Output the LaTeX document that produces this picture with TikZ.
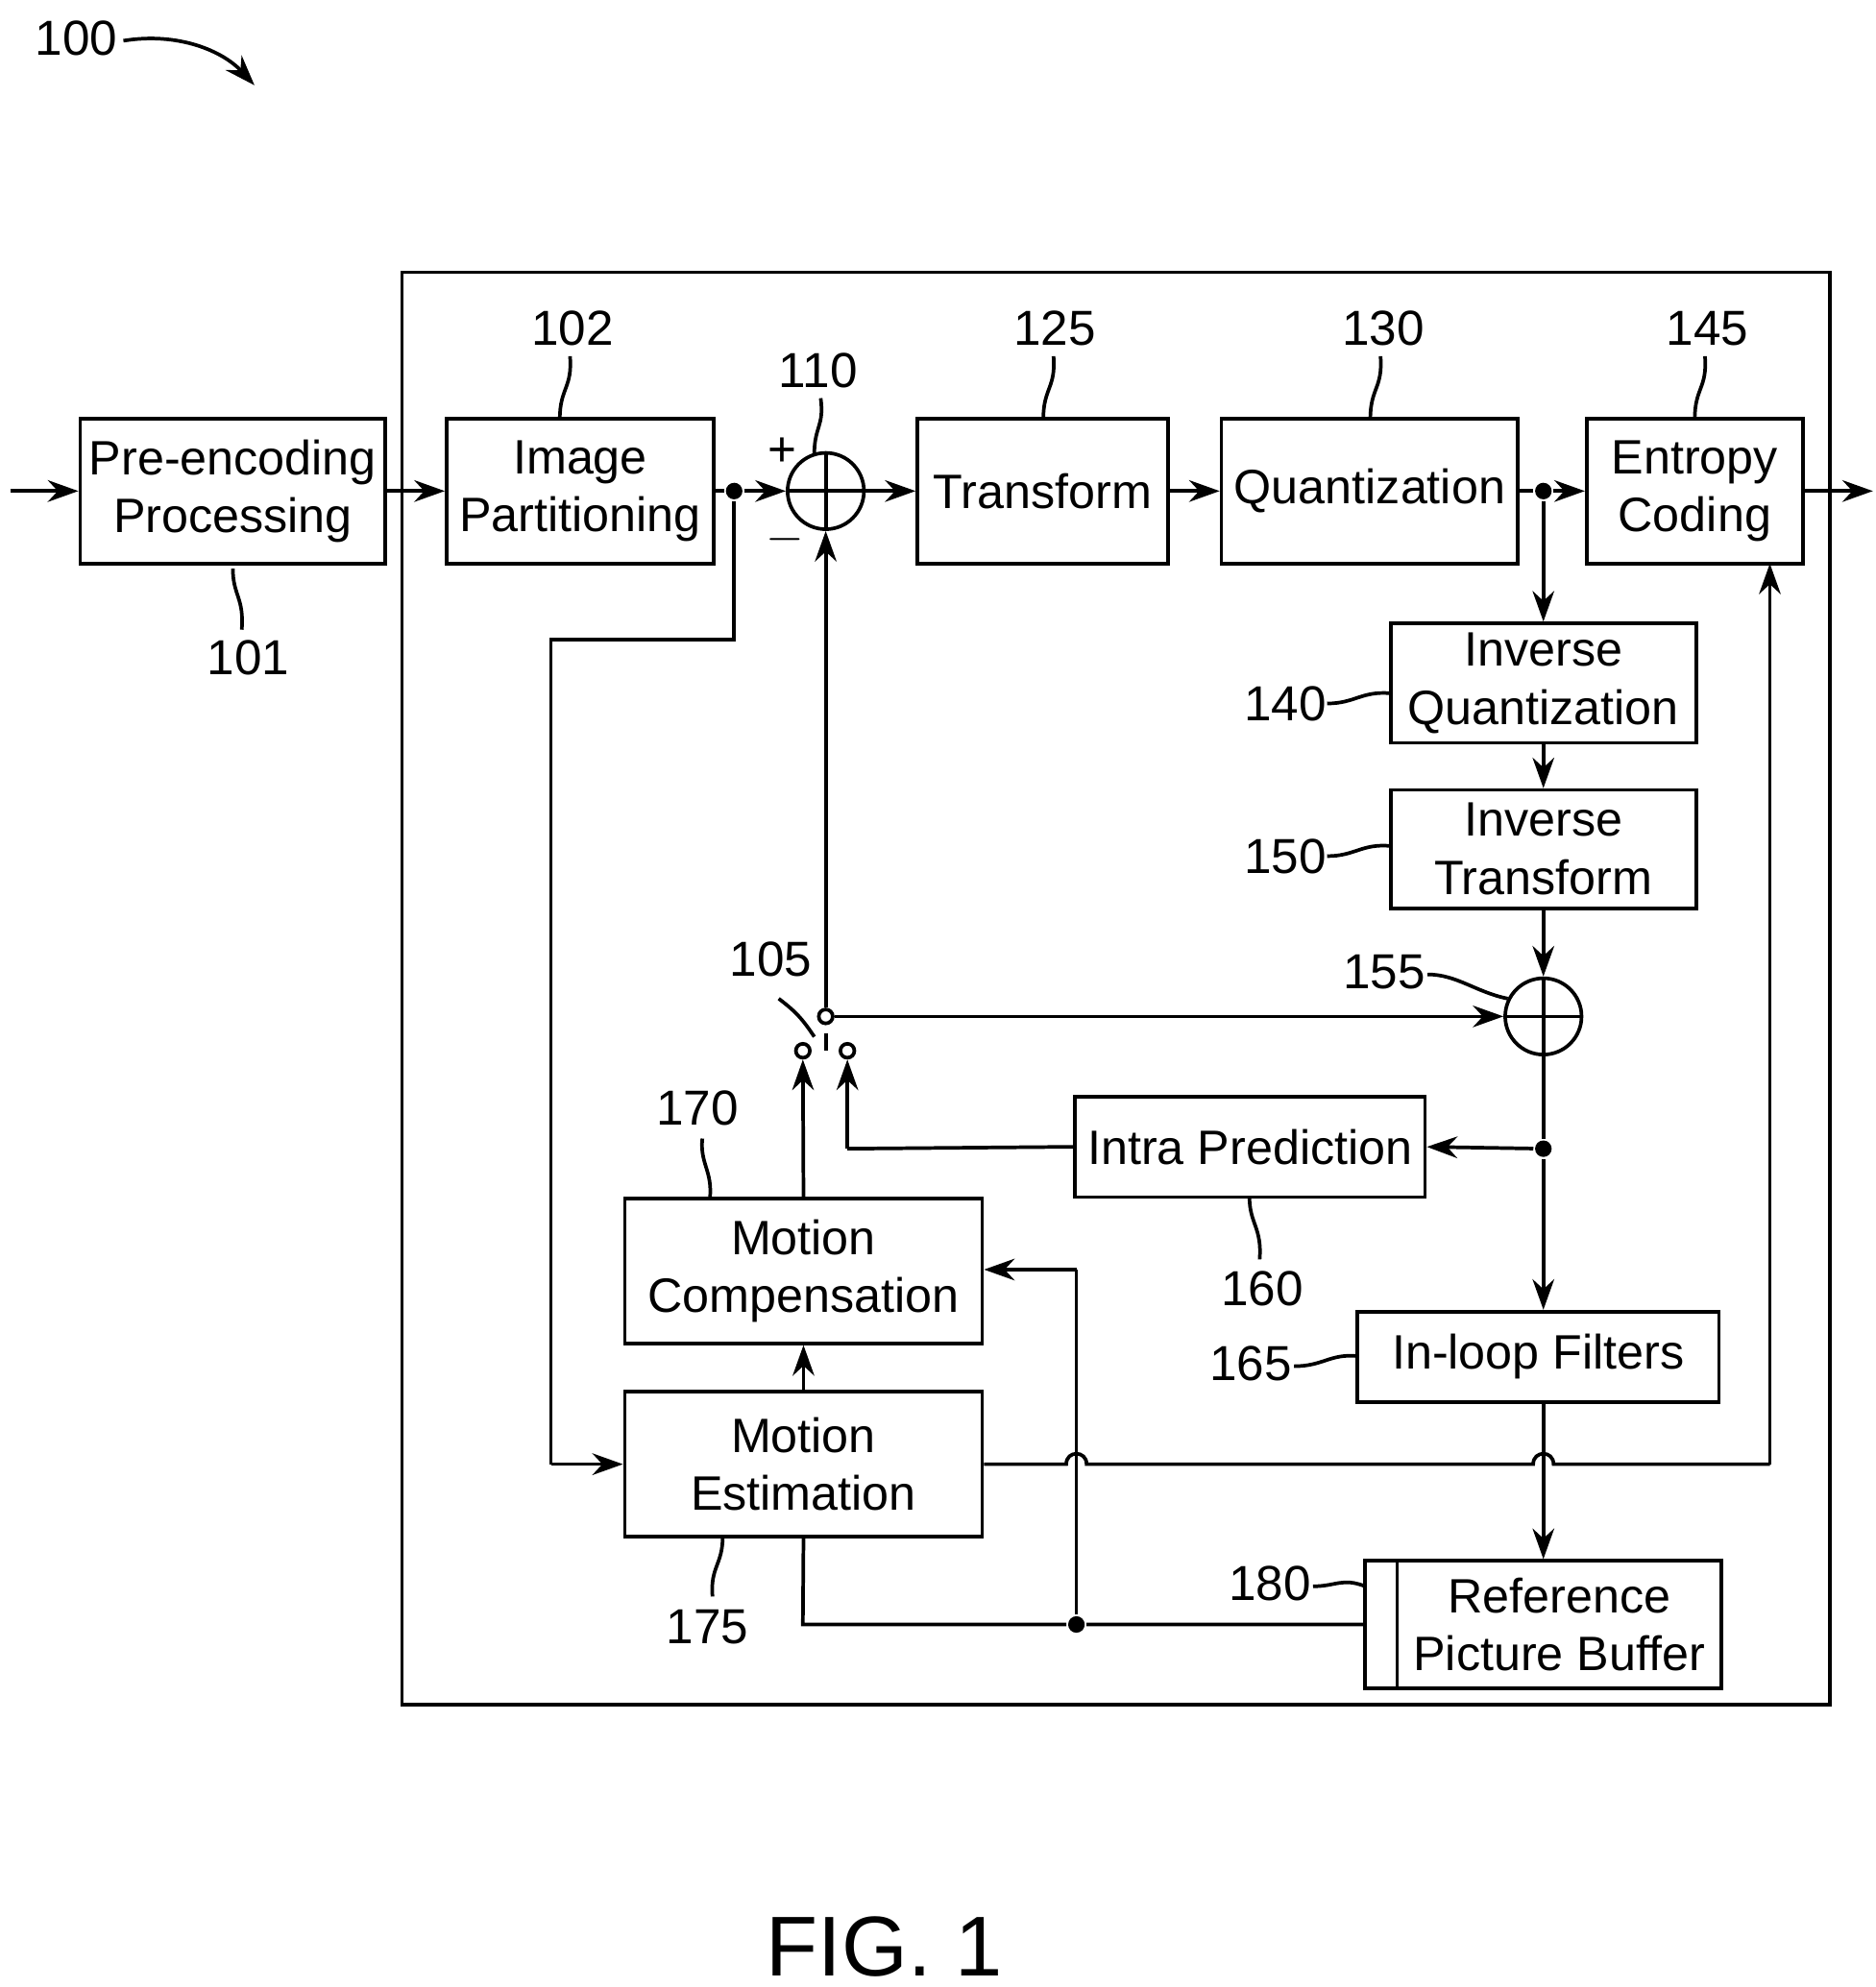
\documentclass[tikz,border=0pt]{standalone}
\usepackage{fontspec}
\setmainfont{Liberation Sans}
\usetikzlibrary{arrows.meta}
\begin{document}
\begin{tikzpicture}[x=0.1mm,y=-0.1mm,line width=0.8pt,
  box/.style={draw,rectangle,inner sep=0pt,align=center,font=\fontsize{10.8}{13}\selectfont},
  lab/.style={font=\fontsize{11}{13}\selectfont},
  sum/.style={draw,circle,minimum size=6mm,inner sep=0pt},
  ct/.style={draw,circle,fill=white,minimum size=1.1mm,inner sep=0pt},
  dot/.style={circle,fill,minimum size=1.3mm,inner sep=0pt},
  >={Stealth[length=2.4mm,width=1.7mm]}]
\useasboundingbox (0,0) rectangle (1474,1562);
\draw (316,214) rectangle (1438,1340);
\node[box,minimum width=24mm,minimum height=11.4mm] (pre) at (183,386) {Pre-encoding\\Processing};
\node[box,minimum width=21mm,minimum height=11.4mm] (ip) at (456,386) {Image\\Partitioning};
\node[sum] (s110) at (649,386) {};
\draw (s110.north)--(s110.south) (s110.west)--(s110.east);
\node[box,minimum width=19.7mm,minimum height=11.4mm] (tr) at (819.5,386) {Transform};
\node[box,minimum width=23.3mm,minimum height=11.4mm] (qu) at (1076.5,386) {Quantization};
\node[box,minimum width=17mm,minimum height=11.4mm] (ec) at (1332,386) {Entropy\\Coding};
\node[box,minimum width=24mm,minimum height=9.4mm] (iq) at (1213,537) {Inverse\\Quantization};
\node[box,minimum width=24mm,minimum height=9.3mm] (it) at (1213,667.5) {Inverse\\Transform};
\node[sum] (s155) at (1213,799) {};
\draw (s155.north)--(s155.south) (s155.west)--(s155.east);
\node[box,minimum width=27.5mm,minimum height=7.9mm] (intra) at (982.5,901.5) {Intra Prediction};
\node[box,minimum width=28.1mm,minimum height=11.4mm] (mc) at (631.5,999) {Motion\\Compensation};
\node[box,minimum width=28.1mm,minimum height=11.4mm] (me) at (631.5,1151) {Motion\\Estimation};
\node[box,minimum width=28.4mm,minimum height=7.1mm] (lf) at (1209,1066.5) {In-loop Filters};
\node[box,minimum width=28mm,minimum height=10mm] (rpb) at (1213,1277) {\hspace{2.5mm}Reference\\\hspace{2.5mm}Picture Buffer};
\draw (1098,1227)--(1098,1327);
% switch contacts
\node[ct] (c0) at (649,799) {};
\node[ct] (cl) at (631,826) {};
\node[ct] (cr) at (666,826) {};
\draw (649,812)--(649,826);
% dots
\node[dot] (d1) at (577,386) {};
\node[dot] (d2) at (1213,386) {};
\node[dot] (d3) at (1213,903) {};
\node[dot] (d4) at (846,1277) {};
\coordinate (in) at (8,386);
\coordinate (out) at (1472,386);
% connectors
\draw[->] (in)--(pre);
\draw[->] (pre)--(ip);
\draw (ip.east)--(d1);
\draw[->] (d1)--(s110.west);
\draw[->] (s110)--(tr);
\draw[->] (tr)--(qu);
\draw (qu.east)--(d2);
\draw[->] (d2)--(ec);
\draw[->] (ec)--(out);
\draw (d1)--(577,503)--(433,503)--(433,1151);
\draw[->] (433,1151)--(me.west);
\draw[->] (d2)--(iq);
\draw[->] (iq)--(it);
\draw[->] (it)--(s155);
\draw[->] (c0)--(s110.south);
\draw[->] (c0)--(s155.west);
\draw (s155)--(d3);
\draw[->] (d3)--(intra.east);
\draw[->] (d3)--(lf.north-|d3);
\draw (intra.west)--(666,903);
\draw[->] (666,903)--(cr.south);
\draw[->] (mc.north)--(cl.south);
\draw[->] (me)--(mc);
\draw (me.south)--(631,1277)--(d4)--(rpb.west);
\draw (d4)--(846,998);
\draw[->] (846,998)--(mc.east|-846,998);
\draw (me.east|-0,1151)--(838,1151) .. controls (838,1140) and (854,1140) .. (854,1151)--(1205,1151) .. controls (1205,1140) and (1221,1140) .. (1221,1151)--(1391,1151);
\draw[->] (1391,1151)--(1391,443);
\draw[->] (lf.south-|d3)--(rpb.north-|d3);
% labels
\node[lab] at (195,517) {101};
\draw (183,447) .. controls (183,468) and (192,470) .. (190,495);
\node[lab] at (450,258) {102};
\draw (440,329) .. controls (440,305) and (450,305) .. (448,280);
\node[lab] at (643,291) {110};
\draw (640,357) .. controls (640,335) and (648,335) .. (645,313);
\node[lab] at (615,355) {+};
\node[lab] at (617,424) {$-$};
\node[lab] at (829,258) {125};
\draw (820,329) .. controls (820,305) and (830,305) .. (828,280);
\node[lab] at (1087,258) {130};
\draw (1077,329) .. controls (1077,305) and (1087,305) .. (1085,280);
\node[lab] at (1342,258) {145};
\draw (1332,329) .. controls (1332,305) and (1342,305) .. (1340,280);
\node[lab] at (1010,553) {140};
\draw (1043,553) .. controls (1065,553) and (1070,543) .. (1093,545);
\node[lab] at (1010,673) {150};
\draw (1043,673) .. controls (1065,673) and (1070,663) .. (1093,665);
\node[lab] at (1088,764) {155};
\draw (1122,766) .. controls (1145,766) and (1160,780) .. (1185,785);
\node[lab] at (606,754) {105};
\draw (612,785) .. controls (625,795) and (630,800) .. (640,815);
\node[lab] at (548,871) {170};
\draw (552,895) .. controls (550,915) and (560,920) .. (558,942);
\node[lab] at (992,1013) {160};
\draw (982,941) .. controls (982,962) and (992,965) .. (990,990);
\node[lab] at (983,1072) {165};
\draw (1017,1074) .. controls (1040,1074) and (1045,1064) .. (1067,1066);
\node[lab] at (556,1279) {175};
\draw (568,1208) .. controls (568,1230) and (558,1232) .. (560,1255);
\node[lab] at (998,1245) {180};
\draw (1032,1247) .. controls (1050,1247) and (1055,1240) .. (1073,1247);
\node[lab] at (60,30) {100};
\draw[->] (97,32) .. controls (140,25) and (175,40) .. (200,67);
\node[font=\fontsize{19}{21}\selectfont] at (695,1530) {FIG. 1};
\end{tikzpicture}
\end{document}
